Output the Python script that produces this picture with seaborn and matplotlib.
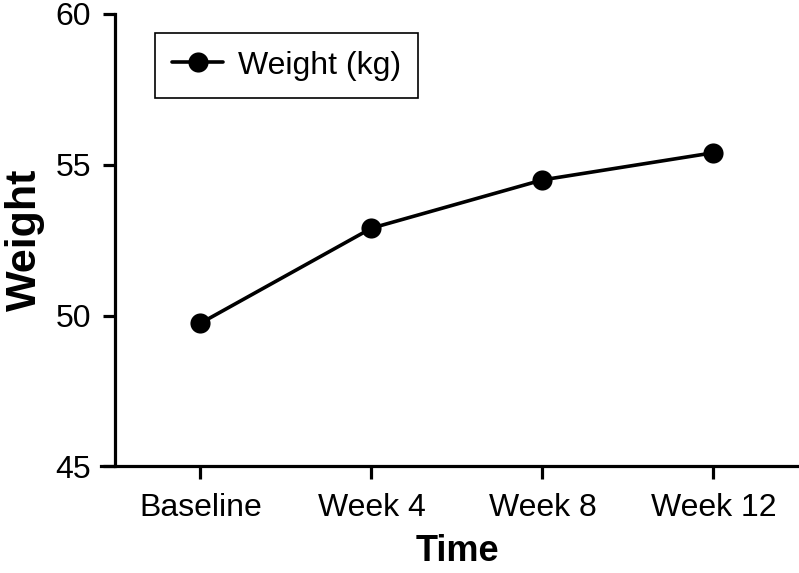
import matplotlib
matplotlib.use("Agg")
import matplotlib.pyplot as plt
import seaborn as sns
import pandas as pd

time_points = ["Baseline", "Week 4", "Week 8", "Week 12"]
weight_kg = [49.75, 52.9, 54.5, 55.4]
y_ticks = [45, 50, 55, 60]

sns.set_theme(style="ticks")
plt.rcParams['font.family'] = ['Liberation Sans', 'DejaVu Sans']
plt.rcParams['text.color'] = 'black'
plt.rcParams['axes.labelcolor'] = 'black'
plt.rcParams['xtick.color'] = 'black'
plt.rcParams['ytick.color'] = 'black'

df = pd.DataFrame({"Time": time_points, "Weight": weight_kg})

fig = plt.figure(figsize=(7.99, 5.73), dpi=100)
ax = fig.add_axes([0.1439, 0.1859, 0.8561, 0.7897])

sns.lineplot(data=df, x="Time", y="Weight", ax=ax, color="black",
             linewidth=2.6, marker="o", markersize=14.5, markeredgewidth=0,
             label="Weight (kg)", sort=False)

ax.set_xlim(-0.5, 3.5)
ax.set_ylim(45, 60)
ax.set_yticks(y_ticks)
ax.set_yticklabels([str(v) for v in y_ticks])

for s in ["top", "right"]:
    ax.spines[s].set_visible(False)
for s in ["left", "bottom"]:
    ax.spines[s].set_linewidth(2.3)
    ax.spines[s].set_color("black")
ax.spines["bottom"].set_bounds(-0.58, 3.5)

ax.tick_params(axis="both", which="major", length=9, width=2.3, color="black",
               labelsize=23, labelcolor="black")
ax.tick_params(axis="y", pad=8)
ax.tick_params(axis="x", pad=10)

ax.set_xlabel("Time", fontsize=26, fontweight="bold", labelpad=8)
ax.set_ylabel("Weight", fontsize=31, fontweight="bold", labelpad=8)

leg = ax.legend(loc="upper left", bbox_to_anchor=(0.058, 0.958), fontsize=23,
                frameon=True, fancybox=False, handlelength=1.6,
                borderpad=0.55, handletextpad=0.45, borderaxespad=0)
leg.get_frame().set_edgecolor("black")
leg.get_frame().set_linewidth(1.2)
leg.get_frame().set_alpha(1)

fig.savefig("out.png", dpi=100)
